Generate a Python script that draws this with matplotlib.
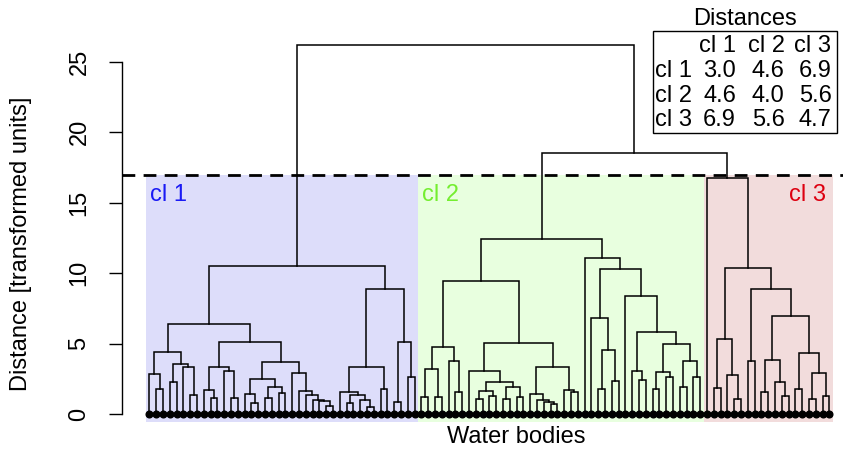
import matplotlib
matplotlib.use('Agg')
import matplotlib.pyplot as plt
from matplotlib.patches import Rectangle

plt.rcParams['font.family'] = ['Liberation Sans', 'DejaVu Sans']

# ---- Data (merge heights) ----
# a node is (height, left, right), o is a single water body
o = 0

# cluster 1
cl1_a = (4.4, (2.87, o, (1.78, o, o)), (3.55, (2.28, o, o), (3.36, o, (1.35, o, o))))
cl1_b = (3.36, (1.72, o, (1.15, o, o)), (3.08, o, (1.15, o, o)))
cl1_c = (3.67, (2.46, (1.42, o, (0.8, o, o)), (1.94, (1.16, o, o), (1.47, o, o))),
         (2.93, o, (1.63, o, (1.35, o, (0.99, o, (0.92, o, (0.57, o, o)))))))
cl1_d = (8.88, (3.36, (1.58, o, (1.35, (0.8, o, o), (1.0, o, (0.52, o, o)))), (1.78, o, o)),
         (5.09, (0.88, o, o), (2.6, o, o)))
cluster1 = (10.51, (6.39, cl1_a, (5.09, cl1_b, cl1_c)), cl1_d)

# cluster 2
cl2_a = (4.73, (3.17, (1.23, o, o), (1.23, o, o)), (3.79, o, (1.54, o, o)))
cl2_b = (3.08, o, (2.3, (1.66, (1.04, o, o), (1.28, o, o)), (1.9, (1.04, o, o), (1.23, o, o))))
cl2_c = (3.31, (1.4, o, (0.99, o, (0.83, o, (0.69, o, o)))), (1.7, o, (1.54, o, o)))
cl2_d = (6.84, o, (4.55, (1.75, o, o), (2.34, o, o)))
cl2_e = (8.38, o, (5.8, (3.08, o, (2.41, o, o)),
                   (4.95, (3.0, (1.78, o, o), (2.6, o, o)), (3.79, (1.9, o, o), (2.6, o, o)))))
cluster2 = (12.43, (9.47, cl2_a, (5.02, cl2_b, cl2_c)), (11.06, o, (10.27, cl2_d, cl2_e)))

# cluster 3
cl3_a = (5.3, (1.82, o, o), (2.77, o, (1.04, o, o)))
cl3_b = (6.96, (3.84, (1.58, o, o), (2.3, o, (1.28, o, o))),
         (4.36, (1.78, o, o), (2.89, (1.04, o, o), (1.28, o, o))))
cluster3 = (16.74, o, (10.35, cl3_a, (8.85, (3.79, o, o), cl3_b)))

merge_23 = 18.54
merge_all = 26.2
cut_height = 17

cluster_names = ['cl 1', 'cl 2', 'cl 3']
cluster_fill = ['#DDDDFA', '#E8FFDF', '#F2DCDC']
cluster_text = ['#1A1AF5', '#74EE30', '#DD0010']

dist_names = ['cl 1', 'cl 2', 'cl 3']
dist_values = [[3.0, 4.6, 6.9],
               [4.6, 4.0, 5.6],
               [6.9, 5.6, 4.7]]

yticks = [0, 5, 10, 15, 20, 25]

# ---- Functions ----
def count_leaves(node):
    if node == o:
        return 1
    return count_leaves(node[1]) + count_leaves(node[2])


# draws the node and returns its x position and height
def draw_node(ax, node, leaf_x):
    if node == o:
        leaf_x.append(len(leaf_x) + 1)
        return leaf_x[-1], 0.0
    h, left, right = node
    xl, hl = draw_node(ax, left, leaf_x)
    xr, hr = draw_node(ax, right, leaf_x)
    ax.plot([xl, xl, xr, xr], [hl, h, h, hr], color='black', lw=1.1, zorder=3,
            solid_joinstyle='miter')
    return (xl + xr) / 2, h


W, H = 843, 450
fig = plt.figure(figsize=(W / 100, H / 100), dpi=100)
ax = fig.add_axes([121.7 / W, 1 - 429 / H, (W - 121.7) / W, (429 - 30) / H])


def px(x, y):
    return x / W, 1 - y / H


# ---- Dendrogram ----
leaf_x = []
top = (merge_all, cluster1, (merge_23, cluster2, cluster3))
draw_node(ax, top, leaf_x)
ax.plot(leaf_x, [0] * len(leaf_x), 'o', color='black', ms=4.8, zorder=4, clip_on=False)

# cluster boxes
start = 1
for k, cl in enumerate([cluster1, cluster2, cluster3]):
    n = count_leaves(cl)
    x0, x1 = start - 0.5, start + n - 0.5
    ax.add_patch(Rectangle((x0, -0.55), x1 - x0, cut_height + 0.55,
                           facecolor=cluster_fill[k], edgecolor='none', zorder=1))
    if k < 2:
        ax.text(x0 + 0.6, 15.55, cluster_names[k], color=cluster_text[k],
                fontsize=17, ha='left', va='center', zorder=5)
    else:
        ax.text(x1 - 1.0, 15.55, cluster_names[k], color=cluster_text[k],
                fontsize=17, ha='right', va='center', zorder=5)
    start += n

ax.axhline(cut_height, color='black', lw=2.0, dashes=(4.6, 3.0), zorder=6)

ax.set_xlim(-3.06, 103.01)
ax.set_ylim(-1.065, 27.27)

# ---- Axes ----
for s in ['top', 'right', 'bottom']:
    ax.spines[s].set_visible(False)
ax.spines['left'].set_bounds(0, 25)
ax.spines['left'].set_linewidth(1.0)
ax.set_xticks([])
ax.set_yticks(yticks)
ax.tick_params(axis='y', length=9.4, width=1.0, labelsize=17, pad=13)
for lab in ax.get_yticklabels():
    lab.set_rotation(90)
    lab.set_va('center')
ax.patch.set_visible(False)

fig.text(*px(21.5, 243.5), 'Distance [transformed units]', rotation=90,
         fontsize=17, ha='center', va='center')
fig.text(*px(516, 437), 'Water bodies', fontsize=17, ha='center', va='center')

# ---- Distance table ----
fig.text(*px(745, 19), 'Distances', fontsize=17, ha='center', va='center')
bx0, by0 = px(652.7, 132.7)
bx1, by1 = px(837.3, 31)
fig.add_artist(Rectangle((bx0, by0), bx1 - bx0, by1 - by0, transform=fig.transFigure,
                         facecolor='white', edgecolor='black', lw=1.0, zorder=7))
col_right = [736, 784.5, 831.5]
row_y = [46, 70.7, 95.7, 120]
for j, name in enumerate(dist_names):
    fig.text(*px(col_right[j], row_y[0]), name, fontsize=17, ha='right', va='center', zorder=8)
for i, name in enumerate(dist_names):
    fig.text(*px(655, row_y[i + 1]), name, fontsize=17, ha='left', va='center', zorder=8)
    for j in range(3):
        fig.text(*px(col_right[j], row_y[i + 1]), '%.1f' % dist_values[i][j],
                 fontsize=17, ha='right', va='center', zorder=8)

fig.savefig('out.png', dpi=100)
